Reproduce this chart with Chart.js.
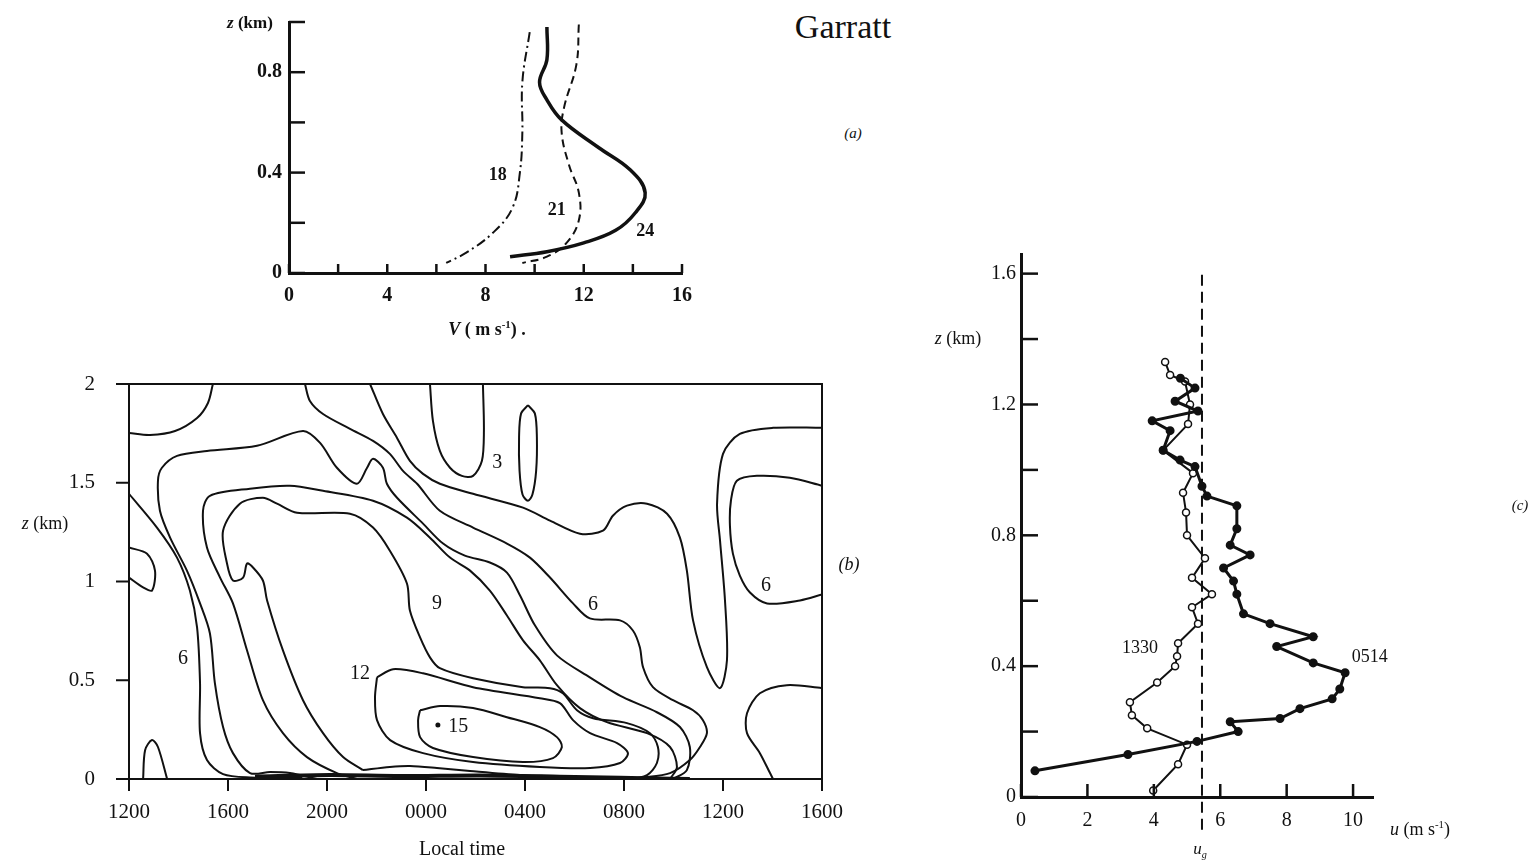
<!DOCTYPE html>
<html>
<head>
<meta charset="utf-8">
<script src="https://cdn.jsdelivr.net/npm/chart.js@4.4.1/dist/chart.umd.min.js"></script>
<style>
  body { margin: 0; background: #fff; }
  #page { position: relative; width: 1538px; height: 860px; overflow: hidden;
          font-family: 'Liberation Serif', 'DejaVu Serif', serif; color: #111; }
  canvas { position: absolute; }
  .t { position: absolute; white-space: nowrap; line-height: 1; transform: translate(-50%, -50%); }
  sup { font-size: 0.6em; }
  sub { font-size: 0.6em; }
</style>
</head>
<body>
<div id="page">
  <canvas id="chartA" width="540" height="345" style="left:180px;top:0px"></canvas>
  <canvas id="chartB" width="880" height="523" style="left:0px;top:337px"></canvas>
  <canvas id="chartC" width="638" height="623" style="left:900px;top:237px"></canvas>

  <div class="t" style="left:843px;top:27px;font-size:34px">Garratt</div>

  <div class="t" style="left:250px;top:22px;font-size:17px;font-weight:bold"><i>z</i> (km)</div>
  <div class="t" style="left:487px;top:328px;font-size:18px;font-weight:bold"><i>V</i> ( m s<sup>-1</sup>) .</div>
  <div class="t" style="left:853px;top:133px;font-size:15px"><i>(a)</i></div>

  <div class="t" style="left:45px;top:523px;font-size:18px"><i>z</i> (km)</div>
  <div class="t" style="left:462px;top:848px;font-size:20px">Local time</div>
  <div class="t" style="left:849px;top:564px;font-size:18px"><i>(b)</i></div>

  <div class="t" style="left:958px;top:338px;font-size:18px"><i>z</i> (km)</div>
  <div class="t" style="left:1420px;top:828px;font-size:18px"><i>u</i> (m s<sup>-1</sup>)</div>
  <div class="t" style="left:1200px;top:850px;font-size:17px"><i>u</i><sub><i>g</i></sub></div>
  <div class="t" style="left:1520px;top:505px;font-size:15px"><i>(c)</i></div>
</div>

<script>
const INK = '#111';
const SERIF = "'Liberation Serif', 'DejaVu Serif', serif";

// ---------- (a) wind speed profiles V (m/s) against height z (km) ----------
const aSpeed18  = [9.8, 9.5, 9.5, 9.4, 9.1, 8.3, 7.2, 6.4];
const aHeight18 = [0.96, 0.76, 0.56, 0.40, 0.26, 0.16, 0.08, 0.04];
const aSpeed21  = [11.8, 11.7, 11.2, 11.1, 11.4, 11.8, 11.8, 11.3, 10.5, 9.5];
const aHeight21 = [0.99, 0.83, 0.66, 0.56, 0.43, 0.32, 0.21, 0.12, 0.065, 0.04];
const aSpeed24  = [10.5, 10.5, 10.2, 10.5, 11.1, 12.6, 13.9, 14.5, 14.1, 13.3, 12.0, 10.5, 9.0];
const aHeight24 = [0.98, 0.85, 0.76, 0.69, 0.61, 0.50, 0.41, 0.32, 0.24, 0.17, 0.12, 0.085, 0.065];
const aXLabels = ['0', '', '4', '', '8', '', '12', '', '16'];
const aYLabels = ['0', '', '0.4', '', '0.8', ''];
const aNotes = [
  { text: '18', x: 8.5, y: 0.39 },
  { text: '21', x: 10.9, y: 0.25 },
  { text: '24', x: 14.5, y: 0.165 }
];

// ---------- (b) isotachs, local time (h from 1200 day 1) vs z (km) ----------
const bArcTopLeft     = [[12.0,1.752],[12.85,1.742],[13.86,1.762],[14.75,1.828],[15.19,1.904],[15.39,2.0]];
const bBumpLeft       = [[12.0,1.172],[12.73,1.141],[13.05,1.055],[12.93,0.954],[12.57,0.97],[12.0,1.02]];
const bArchBottomLeft = [[12.57,0],[12.65,0.146],[12.93,0.197],[13.17,0.162],[13.54,0]];
const bLine6Left = [[12.0,1.444],[13.13,1.273],[13.94,1.121],[14.46,0.954],[14.75,0.768],[14.87,0.485],
  [14.87,0.232],[15.15,0.096],[15.8,0.025],[16.89,0.008],[19.0,0.005]];
const bLineD = [[19.6,0],[18.5,0.03],[17.7,0.035],[16.89,0.03],[16.2,0.131],[15.8,0.263],[15.47,0.485],
  [15.27,0.737],[14.87,0.889],[14.34,1.055],[13.66,1.222],[13.25,1.358],[13.17,1.51],[13.33,1.576],
  [13.94,1.636],[15.15,1.661],[17.17,1.687],[19.03,1.762],[19.72,1.702],[20.4,1.576],[21.21,1.495],
  [21.62,1.576],[21.86,1.621],[22.26,1.576],[22.42,1.495],[22.83,1.424],[23.88,1.293],[24.69,1.192],
  [25.57,1.131],[26.58,1.096],[27.27,1.045],[27.8,0.929],[28.4,0.778],[29.29,0.626],[30.62,0.515],
  [31.96,0.414],[33.33,0.338],[34.26,0.263],[34.66,0.162],[34.54,0.045],[33.98,0]];
const bLineTop = [[19.11,2.0],[19.31,1.914],[19.84,1.848],[20.93,1.773],[21.86,1.712],[22.54,1.646],
  [23.07,1.56],[23.64,1.495],[24.56,1.358],[25.9,1.273],[27.27,1.192],[28.2,1.121],[29.01,1.02],
  [29.94,0.889],[30.62,0.813],[31.84,0.803],[32.36,0.752],[32.64,0.667],[32.77,0.566],[33.17,0.465],
  [33.98,0.399],[34.79,0.348],[35.19,0.298],[35.35,0.232],[35.07,0.162],[34.66,0.096],[33.86,0.03],[32.64,0.005]];
const bLineE = [[21.21,0],[20.4,0.03],[19.19,0.111],[18.22,0.232],[17.41,0.399],[16.77,0.651],[16.2,0.889],
  [15.68,1.02],[15.15,1.172],[14.99,1.358],[15.27,1.434],[16.89,1.47],[18.5,1.485],[19.84,1.459],
  [21.86,1.409],[23.23,1.323],[24.16,1.222],[24.97,1.121],[25.78,1.055],[26.58,0.954],[27.27,0.828],
  [27.92,0.702],[28.6,0.601],[29.29,0.475],[30.22,0.359],[31.31,0.288],[32.93,0.232],[33.86,0.162],
  [34.14,0.061],[33.86,0]];
const bLine9 = [[21.45,0.045],[20.65,0.111],[19.84,0.232],[19.03,0.399],[18.22,0.651],[17.58,0.904],
  [17.41,1.005],[17.01,1.071],[16.77,1.091],[16.61,1.02],[16.2,1.005],[15.96,1.091],[15.8,1.257],
  [16.48,1.394],[17.41,1.424],[17.98,1.394],[18.79,1.348],[20.93,1.343],[21.86,1.273],[22.54,1.156],
  [23.23,0.99],[23.35,0.853],[23.76,0.717],[24.16,0.616],[24.56,0.561],[25.9,0.51],[27.92,0.465],
  [29.01,0.46],[29.53,0.434],[30.1,0.348],[30.75,0.308],[32.12,0.283],[33.05,0.232],[33.37,0.162],
  [33.33,0.081],[32.93,0.02],[32.24,0.003],[30.22,0.01],[27.8,0.02],[25.78,0.04],[24.44,0.056],
  [23.35,0.066],[22.54,0.061],[21.45,0.045]];
const bLine12 = [[22.02,0.515],[22.67,0.556],[23.88,0.535],[25.9,0.465],[28.6,0.409],[29.41,0.384],
  [29.94,0.298],[30.63,0.232],[31.72,0.182],[32.16,0.131],[31.84,0.081],[30.63,0.056],[28.6,0.061],
  [25.9,0.086],[23.88,0.131],[22.55,0.197],[22.02,0.298],[21.94,0.414],[22.02,0.515]];
const bLine15 = [[23.76,0.348],[24.57,0.369],[25.9,0.359],[27.27,0.313],[28.6,0.263],[29.29,0.212],
  [29.49,0.162],[29.13,0.106],[27.92,0.086],[25.9,0.111],[24.28,0.157],[23.76,0.212],[23.68,0.298],[23.76,0.348]];
const bLineTongue = [[21.74,2.0],[22.26,1.848],[22.83,1.727],[23.35,1.611],[23.88,1.545],[24.56,1.495],
  [25.9,1.444],[27.92,1.374],[29.01,1.308],[30.22,1.242],[31.15,1.257],[31.55,1.333],[32.12,1.384],
  [32.93,1.394],[33.74,1.343],[34.26,1.222],[34.54,1.055],[34.79,0.803],[35.35,0.566],[35.88,0.46],
  [36.16,0.601],[36.08,0.904],[35.88,1.207],[35.76,1.394],[36.0,1.646],[36.68,1.747],[38.02,1.778],[40,1.778]];
const bLine3U = [[24.16,2.0],[24.28,1.813],[24.56,1.661],[24.97,1.576],[25.45,1.535],[25.9,1.535],
  [26.26,1.611],[26.34,1.762],[26.3,2.0]];
const bLine3Oval = [[28.12,1.893],[28.4,1.85],[28.48,1.73],[28.45,1.56],[28.3,1.44],[28.12,1.409],
  [27.9,1.44],[27.78,1.56],[27.76,1.73],[27.84,1.85],[28.12,1.893]];
const bLoop6Right = [[40,1.485],[38.7,1.525],[37.37,1.535],[36.56,1.51],[36.32,1.409],[36.28,1.283],
  [36.4,1.141],[36.68,1.03],[37.09,0.944],[37.78,0.889],[39.11,0.904],[40,0.934]];
const bLineBottomRight = [[40,0.46],[38.58,0.475],[37.49,0.434],[36.97,0.333],[36.97,0.232],[37.49,0.131],
  [37.9,0.03],[38.02,0]];
const bSurfaceBand = [[17.09,0.012],[20.12,0.02],[22.95,0.015],[26.18,0.018],[29.41,0.012],[31.84,0.006],[34.66,0]];
const bContours = [bArcTopLeft, bBumpLeft, bArchBottomLeft, bLine6Left, bLineD, bLineTop, bLineE, bLine9,
  bLine12, bLine15, bLineTongue, bLine3U, bLine3Oval, bLoop6Right, bLineBottomRight];
const bMaxPoint = [{ x: 24.48, y: 0.273 }];
const bXLabels = ['1200', '1600', '2000', '0000', '0400', '0800', '1200', '1600'];
const bYLabels = ['0', '0.5', '1', '1.5', '2'];
const bNotes = [
  { text: '3', x: 26.88, y: 1.6 },
  { text: '6', x: 14.18, y: 0.61 },
  { text: '6', x: 30.75, y: 0.884 },
  { text: '6', x: 37.74, y: 0.98 },
  { text: '9', x: 24.44, y: 0.889 },
  { text: '12', x: 21.33, y: 0.535 },
  { text: '15', x: 24.9, y: 0.263, align: 'left' }
];

// ---------- (c) u profiles at 1330 and 0514, u (m/s) vs z (km) ----------
const c1330Speed  = [3.98, 4.73, 5.0, 3.8, 3.34, 3.28, 4.1, 4.64, 4.7, 4.73, 5.33, 5.15, 5.75, 5.15, 5.54,
  5.0, 4.97, 4.88, 5.18, 4.28, 5.03, 5.09, 4.94, 4.49, 4.34];
const c1330Height = [0.02, 0.10, 0.16, 0.21, 0.25, 0.29, 0.35, 0.40, 0.43, 0.47, 0.53, 0.58, 0.62, 0.67, 0.73,
  0.80, 0.87, 0.93, 0.99, 1.06, 1.14, 1.20, 1.27, 1.29, 1.33];
const c0514Speed  = [0.42, 3.22, 5.3, 6.54, 6.3, 7.8, 8.4, 9.37, 9.6, 9.76, 8.8, 7.7, 8.8, 7.5, 6.7, 6.5,
  6.4, 6.1, 6.9, 6.3, 6.5, 6.5, 5.6, 5.45, 5.24, 4.79, 4.28, 4.49, 3.95, 5.33, 4.64, 5.24, 4.8];
const c0514Height = [0.08, 0.13, 0.17, 0.20, 0.23, 0.24, 0.27, 0.30, 0.33, 0.38, 0.41, 0.46, 0.49, 0.53, 0.56, 0.62,
  0.66, 0.70, 0.74, 0.77, 0.82, 0.89, 0.92, 0.95, 1.01, 1.03, 1.06, 1.12, 1.15, 1.18, 1.21, 1.25, 1.28];
const cGeostrophic = 5.45;
const cGeoRange = [-0.1, 1.61];
const cXLabels = ['0', '2', '4', '6', '8', '10'];
const cYLabels = ['0', '', '0.4', '', '0.8', '', '1.2', '', '1.6'];
const cNotes = [
  { text: '1330', x: 3.58, y: 0.456 },
  { text: '0514', x: 10.5, y: 0.428 }
];

// ---------- helpers ----------
const pts = (xs, ys) => xs.map((x, i) => ({ x, y: ys[i] }));
const pairs = arr => arr.map(([x, y]) => ({ x, y }));

function tickMarks(xLen, xDir, yLen, yDir, width) {
  return {
    id: 'tickMarks',
    afterDraw(chart) {
      const ctx = chart.ctx, sx = chart.scales.x, sy = chart.scales.y;
      ctx.save();
      ctx.strokeStyle = INK;
      ctx.lineWidth = width;
      sx.ticks.forEach(t => {
        const p = sx.getPixelForValue(t.value);
        ctx.beginPath(); ctx.moveTo(p, sx.top); ctx.lineTo(p, sx.top + xDir * xLen); ctx.stroke();
      });
      sy.ticks.forEach(t => {
        const p = sy.getPixelForValue(t.value);
        ctx.beginPath(); ctx.moveTo(sy.right, p); ctx.lineTo(sy.right - yDir * yLen, p); ctx.stroke();
      });
      ctx.restore();
    }
  };
}

function notes(items, font) {
  return {
    id: 'notes',
    afterDatasetsDraw(chart) {
      const ctx = chart.ctx, sx = chart.scales.x, sy = chart.scales.y;
      ctx.save();
      ctx.fillStyle = INK;
      ctx.font = font;
      ctx.textBaseline = 'middle';
      items.forEach(n => {
        ctx.textAlign = n.align || 'center';
        ctx.fillText(n.text, sx.getPixelForValue(n.x), sy.getPixelForValue(n.y));
      });
      ctx.restore();
    }
  };
}

const frame = {
  id: 'frame',
  afterDraw(chart) {
    const { ctx, chartArea: a } = chart;
    ctx.save();
    ctx.strokeStyle = INK;
    ctx.lineWidth = 2;
    ctx.strokeRect(a.left, a.top, a.right - a.left, a.bottom - a.top);
    ctx.restore();
  }
};

function axis(min, max, step, labels, pad, size, font, bw) {
  return {
    type: 'linear', min, max,
    grid: { display: false, drawTicks: false },
    border: { display: true, color: INK, width: bw },
    ticks: {
      stepSize: step, includeBounds: false, autoSkip: false, maxRotation: 0,
      padding: pad, color: INK, font,
      callback: (v, i) => labels[i] ?? ''
    },
    afterFit: s => { if (s.isHorizontal()) s.height = size; else s.width = size; }
  };
}

const base = (padding, scales) => ({
  responsive: false,
  animation: false,
  events: [],
  layout: { padding },
  plugins: { legend: { display: false }, tooltip: { enabled: false } },
  scales
});

// ---------- chart (a) ----------
const fontA = { family: SERIF, size: 20, weight: 'bold' };
new Chart(document.getElementById('chartA'), {
  type: 'scatter',
  data: {
    datasets: [
      { data: pts(aSpeed24, aHeight24), showLine: true, borderColor: INK, borderWidth: 3.5, pointRadius: 0, tension: 0.4 },
      { data: pts(aSpeed21, aHeight21), showLine: true, borderColor: INK, borderWidth: 2, borderDash: [8, 5], pointRadius: 0, tension: 0.4 },
      { data: pts(aSpeed18, aHeight18), showLine: true, borderColor: INK, borderWidth: 2, borderDash: [10, 4, 2, 4], pointRadius: 0, tension: 0.4 }
    ]
  },
  options: base({ left: 0, top: 22, right: 38, bottom: 0 }, {
    x: axis(0, 16, 2, aXLabels, 11, 72, fontA, 3),
    y: axis(0, 1, 0.2, aYLabels, 7, 109, fontA, 3)
  }),
  plugins: [tickMarks(9, -1, 16, -1, 2.5), notes(aNotes, 'bold 18px ' + SERIF)]
});

// ---------- chart (b) ----------
// layout top padding must cover the y tick padding + half a label height
const fontB = { family: SERIF, size: 21 };
new Chart(document.getElementById('chartB'), {
  type: 'scatter',
  data: {
    datasets: bContours.map(c => ({
      data: pairs(c), showLine: true, borderColor: INK, borderWidth: 2, pointRadius: 0, tension: 0.3
    })).concat([
      { data: pairs(bSurfaceBand), showLine: true, borderColor: INK, borderWidth: 4, pointRadius: 0, tension: 0.3 },
      { data: bMaxPoint, pointRadius: 2.5, pointBackgroundColor: INK, pointBorderWidth: 0 }
    ])
  },
  options: base({ left: 0, top: 47, right: 58, bottom: 0 }, {
    x: axis(12, 40, 4, bXLabels, 21, 81, fontB, 2),
    y: axis(0, 2, 0.5, bYLabels, 34, 129, fontB, 2)
  }),
  plugins: [frame, tickMarks(12, 1, 13, 1, 2), notes(bNotes, '20px ' + SERIF)]
});

// ---------- chart (c) ----------
const fontC = { family: SERIF, size: 20 };
new Chart(document.getElementById('chartC'), {
  type: 'scatter',
  data: {
    datasets: [
      { data: pts(c0514Speed, c0514Height), showLine: true, borderColor: INK, borderWidth: 3,
        pointRadius: 3, pointBackgroundColor: INK, pointBorderColor: INK, tension: 0 },
      { data: pts(c1330Speed, c1330Height), showLine: true, borderColor: INK, borderWidth: 2,
        pointRadius: 3.5, pointBackgroundColor: '#fff', pointBorderColor: INK, pointBorderWidth: 1.5, tension: 0 },
      { data: cGeoRange.map(z => ({ x: cGeostrophic, y: z })), showLine: true, borderColor: INK, borderWidth: 2,
        borderDash: [11, 6], pointRadius: 0, clip: false }
    ]
  },
  options: base({ left: 0, top: 17, right: 165, bottom: 0 }, {
    x: axis(0, 10.6, 2, cXLabels, 12, 63, fontC, 3),
    y: axis(0, 1.66, 0.2, cYLabels, 5, 121, fontC, 3)
  }),
  plugins: [tickMarks(13, -1, 17, -1, 2.5), notes(cNotes, '18px ' + SERIF)]
});
</script>
</body>
</html>
